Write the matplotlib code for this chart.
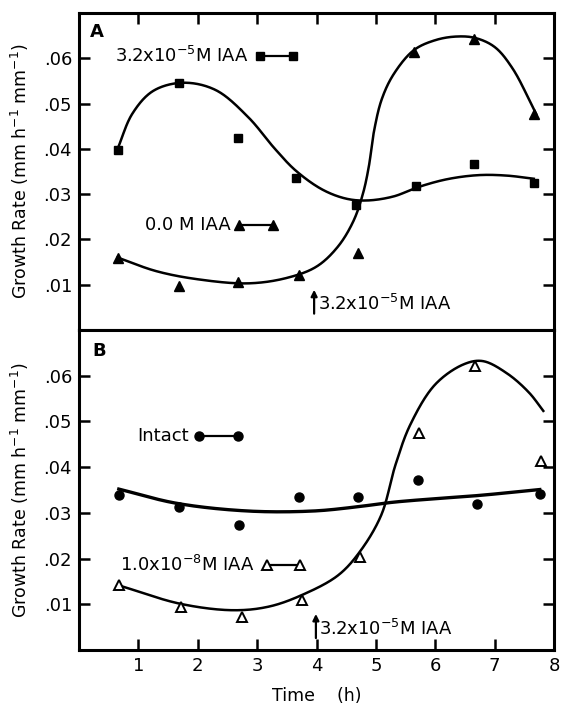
import numpy as np
import matplotlib
matplotlib.use("Agg")
import matplotlib.pyplot as plt

# ---------------- data ----------------
time_h = [0.65, 1.68, 2.68, 3.66, 4.67, 5.67, 6.65, 7.66]

# Panel A
a_iaa_sq = [0.0398, 0.0545, 0.0424, 0.0336, 0.0275, 0.0319, 0.0367, 0.0324]
a_tri_x = [0.65, 1.68, 2.68, 3.71, 4.70, 5.65, 6.65, 7.66]
a_tri = [0.0160, 0.0098, 0.0106, 0.0122, 0.0169, 0.0614, 0.0643, 0.0478]

# hand-drawn fit lines of panel A (knots)
a_sq_fit_x = [0.65, 0.9, 1.25, 1.75, 2.3, 2.85, 3.3, 3.65, 4.1, 4.5, 4.85, 5.3, 5.7, 6.2, 6.73, 7.2, 7.66]
a_sq_fit_y = [0.0400, 0.0478, 0.0528, 0.0546, 0.0530, 0.0470, 0.0400, 0.0352, 0.0310, 0.0290, 0.0286, 0.0295, 0.0315, 0.0333, 0.0342, 0.0341, 0.0334]
a_tri_fit_x = [0.65, 1.3, 2.0, 2.85, 3.5, 4.0, 4.36, 4.62, 4.78, 4.88, 4.97, 5.1, 5.3, 5.64, 6.0, 6.35, 6.67, 7.0, 7.3, 7.7]
a_tri_fit_y = [0.0160, 0.0130, 0.0112, 0.0103, 0.0115, 0.0140, 0.0184, 0.0240, 0.0300, 0.0360, 0.0440, 0.0510, 0.0565, 0.0618, 0.0640, 0.0648, 0.0645, 0.0625, 0.0578, 0.0477]

# Panel B
b_intact = [0.0338, 0.0312, 0.0273, 0.0334, 0.0334, 0.0371, 0.0320, 0.0341]
b_intact_x = [0.67, 1.68, 2.70, 3.71, 4.70, 5.71, 6.70, 7.76]
b_low_x = [0.68, 1.71, 2.75, 3.75, 4.73, 5.72, 6.67, 7.78]
b_low = [0.0143, 0.0093, 0.0073, 0.0110, 0.0204, 0.0474, 0.0622, 0.0413]

b_int_fit_x = [0.67, 1.64, 2.85, 3.94, 4.67, 5.27, 6.0, 6.73, 7.76]
b_int_fit_y = [0.0352, 0.0321, 0.0304, 0.0304, 0.0313, 0.0323, 0.0331, 0.0338, 0.0351]
b_low_fit_x = [0.68, 1.71, 2.6, 3.2, 3.75, 4.36, 4.73, 5.09, 5.33, 5.58, 6.0, 6.48, 6.80, 7.21, 7.58, 7.82]
b_low_fit_y = [0.0141, 0.0101, 0.0087, 0.0095, 0.0120, 0.0163, 0.0215, 0.0295, 0.0405, 0.0493, 0.0581, 0.0625, 0.0632, 0.0605, 0.0563, 0.0523]

x_ticks = [1, 2, 3, 4, 5, 6, 7, 8]
y_ticks = [0.01, 0.02, 0.03, 0.04, 0.05, 0.06]
y_ticklabels = [".01", ".02", ".03", ".04", ".05", ".06"]

plt.rcParams['font.family'] = ['DejaVu Sans']
plt.rcParams['mathtext.fontset'] = 'dejavusans'


def smooth(xs, ys, n=40, sx=59.5, sy=4550.0):
    """Centripetal Catmull-Rom curve through the read knots."""
    p = np.column_stack([np.asarray(xs) * sx, np.asarray(ys) * sy]).astype(float)
    p = np.vstack([2 * p[0] - p[1], p, 2 * p[-1] - p[-2]])
    out = []
    for i in range(1, len(p) - 2):
        P0, P1, P2, P3 = p[i - 1], p[i], p[i + 1], p[i + 2]
        t0 = 0.0
        t1 = t0 + np.linalg.norm(P1 - P0) ** 0.5
        t2 = t1 + np.linalg.norm(P2 - P1) ** 0.5
        t3 = t2 + np.linalg.norm(P3 - P2) ** 0.5
        t = np.linspace(t1, t2, n, endpoint=False)[:, None]
        A1 = (t1 - t) / (t1 - t0) * P0 + (t - t0) / (t1 - t0) * P1
        A2 = (t2 - t) / (t2 - t1) * P1 + (t - t1) / (t2 - t1) * P2
        A3 = (t3 - t) / (t3 - t2) * P2 + (t - t2) / (t3 - t2) * P3
        B1 = (t2 - t) / (t2 - t0) * A1 + (t - t0) / (t2 - t0) * A2
        B2 = (t3 - t) / (t3 - t1) * A2 + (t - t1) / (t3 - t1) * A3
        C = (t2 - t) / (t2 - t1) * B1 + (t - t1) / (t2 - t1) * B2
        out.append(C)
    out.append(p[-2][None, :])
    out = np.vstack(out)
    return out[:, 0] / sx, out[:, 1] / sy


fig = plt.figure(figsize=(5.61, 7.09), dpi=100)
L, W = 79 / 561, 475 / 561
axA = fig.add_axes([L, 1 - 330 / 709, W, 317 / 709])
axB = fig.add_axes([L, 1 - 650 / 709, W, 320 / 709])

for ax in (axA, axB):
    ax.set_xlim(0, 8)
    ax.set_ylim(0, 0.07)
    for s in ax.spines.values():
        s.set_linewidth(2.2)
    ax.set_yticks(y_ticks)
    ax.set_yticklabels(y_ticklabels, fontsize=13)
    ax.set_xticks(x_ticks)
    ax.tick_params(axis='both', direction='in', length=8, width=1.8, pad=5)
    ax.set_ylabel("Growth Rate (mm h$^{-1}$ mm$^{-1}$)", fontsize=12.5, labelpad=9)

axA.tick_params(axis='x', top=True, bottom=False, labelbottom=False)
axA.tick_params(axis='y', right=True)
axB.tick_params(axis='y', right=True)
axB.tick_params(axis='x', top=False, bottom=True)
axB.set_xticklabels([str(v) for v in x_ticks], fontsize=13)
axB.set_xlabel("Time    (h)", fontsize=12.5, labelpad=9)

# ---- Panel A ----
axA.plot(*smooth(a_sq_fit_x, a_sq_fit_y), color='black', lw=1.8)
axA.plot(*smooth(a_tri_fit_x, a_tri_fit_y), color='black', lw=1.8)
axA.plot(time_h, a_iaa_sq, 's', color='black', ms=6)
axA.plot(a_tri_x, a_tri, '^', color='black', ms=7.5)
axA.text(0.18, 0.0657, "A", fontsize=13, fontweight='bold', va='center')

axA.text(2.85, 0.0606, "3.2x10$^{-5}$M IAA", fontsize=13, ha='right', va='center')
axA.plot([3.05, 3.61], [0.0606, 0.0606], '-s', color='black', ms=6, lw=1.6)
axA.text(2.55, 0.0232, "0.0 M IAA", fontsize=13, ha='right', va='center')
axA.plot([2.70, 3.26], [0.0232, 0.0232], '-^', color='black', ms=7.5, lw=1.6)
axA.annotate("", xy=(3.96, 0.0095), xytext=(3.96, 0.0030),
             arrowprops=dict(arrowstyle='-|>', color='black', lw=1.6, mutation_scale=9))
axA.text(4.02, 0.0058, "3.2x10$^{-5}$M IAA", fontsize=13, ha='left', va='center')

# ---- Panel B ----
axB.plot(*smooth(b_int_fit_x, b_int_fit_y), color='black', lw=2.4)
axB.plot(*smooth(b_low_fit_x, b_low_fit_y), color='black', lw=1.8)
axB.plot(b_intact_x, b_intact, 'o', color='black', ms=6.5)
axB.plot(b_low_x, b_low, '^', mfc='white', mec='black', mew=1.4, color='black', ms=7.5)
axB.text(0.22, 0.0655, "B", fontsize=13, fontweight='bold', va='center')

axB.text(1.85, 0.0468, "Intact", fontsize=13, ha='right', va='center')
axB.plot([2.02, 2.68], [0.0468, 0.0468], '-o', color='black', ms=6.5, lw=1.6)
axB.text(2.95, 0.0185, "1.0x10$^{-8}$M IAA", fontsize=13, ha='right', va='center')
axB.plot([3.16, 3.72], [0.0185, 0.0185], '-^', mfc='white', mec='black', mew=1.4,
         color='black', ms=7.5, lw=1.6)
axB.annotate("", xy=(3.99, 0.0085), xytext=(3.99, 0.0020),
             arrowprops=dict(arrowstyle='-|>', color='black', lw=1.6, mutation_scale=9))
axB.text(4.05, 0.0046, "3.2x10$^{-5}$M IAA", fontsize=13, ha='left', va='center')

fig.savefig("out.png", dpi=100)
